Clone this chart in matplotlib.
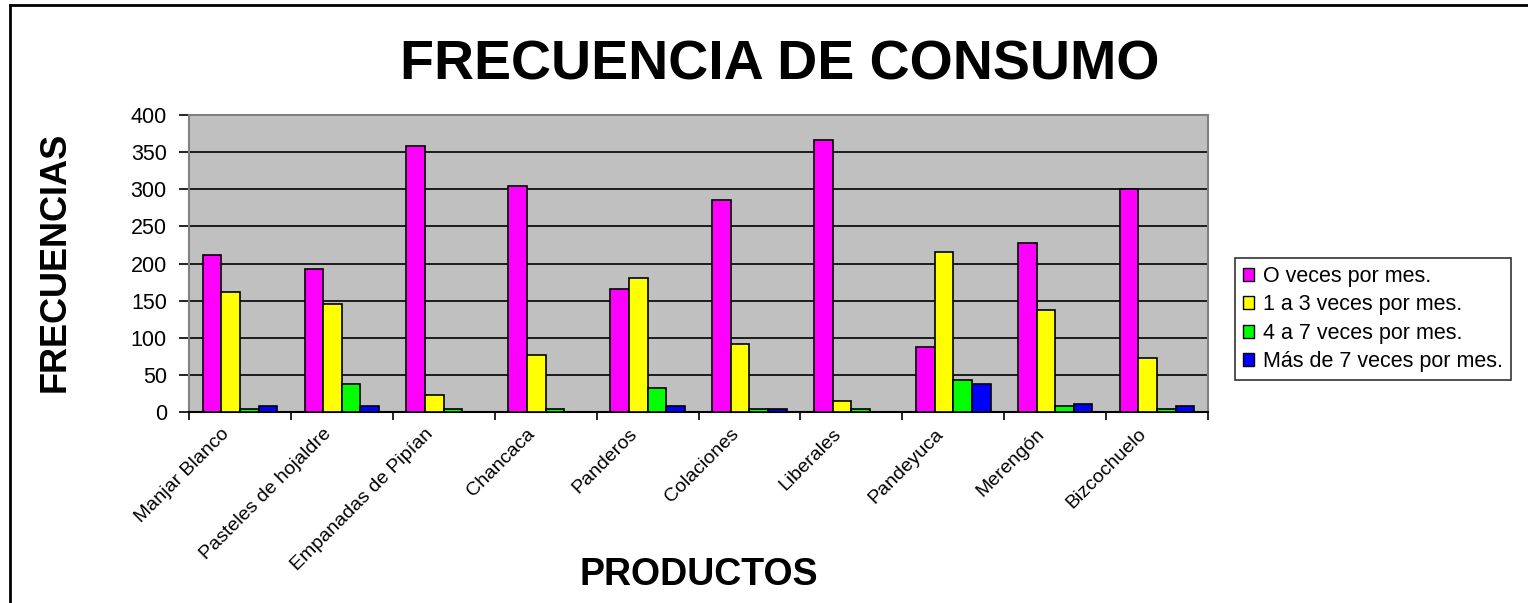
import numpy as np
import matplotlib.pyplot as plt
from matplotlib.lines import Line2D
from matplotlib.transforms import ScaledTranslation

plt.rcParams['font.family'] = ['Liberation Sans', 'DejaVu Sans']

#==============================================================================
# data
#==============================================================================
productos = ['Manjar Blanco', 'Pasteles de hojaldre', 'Empanadas de Pipían',
             'Chancaca', 'Panderos', 'Colaciones', 'Liberales', 'Pandeyuca',
             'Merengón', 'Bizcochuelo']

series_names = ['O veces por mes.', '1 a 3 veces por mes.',
                '4 a 7 veces por mes.', 'Más de 7 veces por mes.']

cero_veces   = [211, 192, 358, 304, 166, 286, 366, 88, 228, 301]
uno_a_tres   = [162, 146, 23, 77, 181, 91, 15, 216, 138, 73]
cuatro_siete = [4, 38, 4, 4, 32, 4, 4, 43, 8, 4]
mas_de_siete = [8, 8, 0, 0, 8, 4, 0, 38, 11, 8]

yticks = [0, 50, 100, 150, 200, 250, 300, 350, 400]

colors = ['#FF00FF', '#FFFF00', '#00FF00', '#0000FF']

#==============================================================================
# plot
#==============================================================================
fig = plt.figure(figsize=(15.28, 6.03), dpi=100)
ax = fig.add_axes([189 / 1528, 1 - 412 / 603, (1208 - 189) / 1528, (412 - 115) / 603])
ax.set_facecolor('#C0C0C0')

x = np.arange(len(productos))
w = 0.183
all_series = [cero_veces, uno_a_tres, cuatro_siete, mas_de_siete]
for i, (vals, c, name) in enumerate(zip(all_series, colors, series_names)):
    ax.bar(x + (i - 1.5) * w, vals, width=w, color=c, edgecolor='black',
           linewidth=1.2, label=name, zorder=3)

ax.set_xlim(-0.5, len(productos) - 0.5)
ax.set_ylim(0, 400)
ax.set_yticks(yticks)
ax.yaxis.grid(True, color='black', linewidth=1.2, zorder=1)
ax.set_axisbelow(True)

# category labels at centers, tick marks at boundaries
ax.set_xticks(x)
ax.set_xticklabels(productos, rotation=45, ha='right', va='top',
                   rotation_mode='anchor', fontsize=14)
ax.tick_params(axis='x', which='major', length=0, pad=6)
shift = ScaledTranslation(-19 / 100, -5 / 100, fig.dpi_scale_trans)
for lbl in ax.get_xticklabels():
    lbl.set_transform(lbl.get_transform() + shift)
ax.set_xticks(np.arange(-0.5, len(productos)), minor=True)
ax.tick_params(axis='x', which='minor', length=6, width=1.2, color='black',
               direction='out')
ax.tick_params(axis='y', length=7, width=1.2, color='black', labelsize=15.5, pad=9)

for s in ['top', 'right', 'left']:
    ax.spines[s].set_color('#808080')
    ax.spines[s].set_linewidth(1.5)
ax.spines['bottom'].set_color('black')
ax.spines['bottom'].set_linewidth(1.5)

# titles
fig.text(780 / 1528, 1 - 65 / 603, 'FRECUENCIA DE CONSUMO', ha='center',
         va='center', fontsize=40, fontweight='bold')
fig.text(699 / 1528, 1 - 575 / 603, 'PRODUCTOS', ha='center', va='center',
         fontsize=27, fontweight='bold')
fig.text(55 / 1528, 1 - 262 / 603, 'FRECUENCIAS', ha='center', va='center',
         rotation=90, fontsize=26, fontweight='bold')

# legend
handles = [plt.Rectangle((0, 0), 1, 1, facecolor=c, edgecolor='black', linewidth=1)
           for c in colors]
leg = fig.legend(handles, series_names, loc='center left',
                 bbox_to_anchor=(1235 / 1528, 1 - 319 / 603), fontsize=15.5,
                 frameon=True, fancybox=False, handlelength=0.55, handleheight=0.55,
                 handletextpad=0.4, labelspacing=0.35, borderpad=0.35,
                 borderaxespad=0)
leg.get_frame().set_edgecolor('black')
leg.get_frame().set_linewidth(1.2)

# figure frame
fig.add_artist(Line2D([10 / 1528, 10 / 1528], [0, 1 - 5 / 603], color='black',
                      linewidth=2, transform=fig.transFigure))
fig.add_artist(Line2D([10 / 1528, 1], [1 - 5 / 603, 1 - 5 / 603], color='black',
                      linewidth=2, transform=fig.transFigure))

fig.savefig('out.png', dpi=100)
